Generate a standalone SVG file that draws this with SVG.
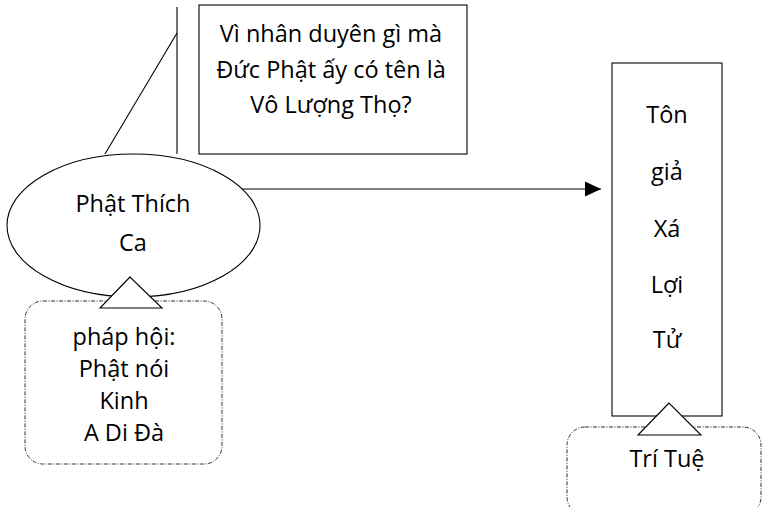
<svg xmlns="http://www.w3.org/2000/svg" width="763" height="507" viewBox="0 0 763 507">
<style>
.ln{fill:none;stroke:#000;stroke-width:1.1}
.box{fill:#fff;stroke:#000;stroke-width:1.1}
.dash{fill:#fff;stroke:#333;stroke-width:1;stroke-dasharray:4 1.5 1 1.5}
.t{font-family:"Open Sans","Noto Sans",sans-serif;font-size:23.5px;fill:#000;text-anchor:middle}
</style>
<defs>
<marker id="ah" markerWidth="16" markerHeight="16" refX="16" refY="8" orient="auto" markerUnits="userSpaceOnUse">
<path d="M0,0.5 L16,8 L0,15.5 Z" fill="#000"/>
</marker>
</defs>
<rect width="763" height="507" fill="#fff"/>
<g id="connectors">
<line class="ln" x1="177" y1="7" x2="177" y2="154"/>
<line class="ln" x1="177" y1="33" x2="105" y2="154"/>
<line class="ln" x1="240" y1="189" x2="601" y2="189" marker-end="url(#ah)"/>
</g>
<g id="question">
<rect class="box" x="199" y="5" width="268" height="149"/>
<text class="t" x="331" y="42">Vì nhân duyên gì mà</text>
<text class="t" x="331" y="78">Đức Phật ấy có tên là</text>
<text class="t" x="331" y="113">Vô Lượng Thọ?</text>
</g>
<g id="phat-thich-ca">
<ellipse class="box" cx="133.5" cy="225.5" rx="126.5" ry="71.5"/>
<text class="t" x="133" y="212">Phật Thích</text>
<text class="t" x="133" y="251">Ca</text>
</g>
<g id="phap-hoi">
<rect class="dash" x="25" y="301" width="197" height="163" rx="18"/>
<polygon class="box" points="130,277 100,308 162,308"/>
<text class="t" x="124" y="345">pháp hội:</text>
<text class="t" x="124" y="377">Phật nói</text>
<text class="t" x="124" y="409">Kinh</text>
<text class="t" x="124" y="441">A Di Đà</text>
</g>
<g id="ton-gia">
<rect class="box" x="612" y="63" width="110" height="353"/>
<text class="t" x="667" y="123">Tôn</text>
<text class="t" x="667" y="180">giả</text>
<text class="t" x="667" y="237">Xá</text>
<text class="t" x="667" y="293">Lợi</text>
<text class="t" x="667" y="348">Tử</text>
</g>
<g id="tri-tue">
<rect class="dash" x="567" y="427" width="194" height="88" rx="18"/>
<polygon class="box" points="669,403 638,435 701,435"/>
<text class="t" x="667" y="467">Trí Tuệ</text>
</g>
</svg>
